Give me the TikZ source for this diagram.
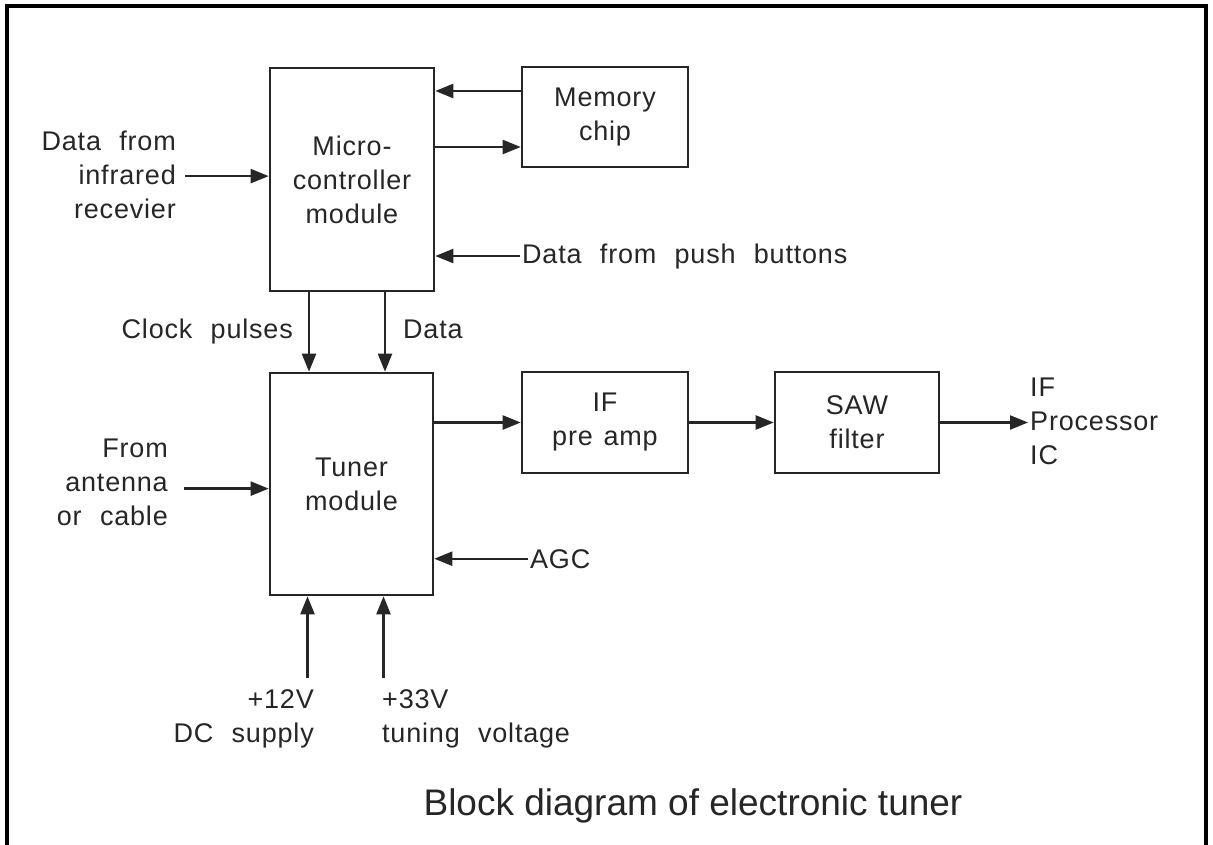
\documentclass[tikz,border=0pt]{standalone}
\usepackage{fontspec}
\setmainfont{Liberation Sans}[LetterSpace=3,WordSpace=2.2]
\newfontfamily\titlefont{Liberation Sans}
\usetikzlibrary{arrows.meta}
\definecolor{ink}{HTML}{262626}
\definecolor{txt}{HTML}{262626}
\tikzset{
  blk/.style={draw=ink,line width=2.6pt,minimum width=#1,inner sep=0pt,align=center,text=txt},
  arr/.style={draw=ink,line width=2.3pt,-{Triangle[length=18pt,width=14pt]}},
  lbl/.style={inner sep=0pt,text=txt},
  bodyfont/.style={font=\fontsize{27}{34}\selectfont},
}
\begin{document}
\begin{tikzpicture}[x=1pt,y=-1pt,bodyfont]
\useasboundingbox (0,0) rectangle (1213,845);
\fill[white] (0,0) rectangle (1213,845);
% frame
\draw[black,line width=4pt] (7,845) -- (7,6) -- (1206,6) -- (1206,845);

% blocks
\node[blk=164pt,minimum height=223pt] (micro) at (352,179.5) {Micro-\\controller\\module};
\node[blk=166pt,minimum height=100pt] (memory) at (605,117) {Memory\\chip};
\node[blk=163pt,minimum height=222pt] (tuner) at (351.5,484) {Tuner\\module};
\node[blk=166pt,minimum height=101pt] (ifamp) at (605,422.5) {IF\\pre\hspace{0.4em}amp};
\node[blk=164pt,minimum height=101pt] (saw) at (857,422.5) {SAW\\filter};

% labels
\node[lbl,anchor=north east,align=right] (ir) at (176,131) {Data from\\infrared\\recevier};
\node[lbl,anchor=base west] (pb) at (522,263) {Data from push buttons};
\node[lbl,anchor=base east] (clk) at (293,338) {Clock pulses};
\node[lbl,anchor=base west] (dat) at (403,338) {Data};
\node[lbl,anchor=north east,align=right] (ant) at (168,439) {From\\antenna\\or cable};
\node[lbl,anchor=base west] (agc) at (530,568) {AGC};
\node[lbl,anchor=west,align=left,inner xsep=2pt] (out) at (1028,421) {IF\\Processor\\IC};
\node[lbl,anchor=north east,align=right] (p12) at (314,689) {+12V\\DC supply};
\node[lbl,anchor=north west,align=left] (p33) at (382,689) {+33V\\tuning voltage};
\node[lbl,anchor=base] (title) at (693,815) {\titlefont\fontsize{37}{44}\selectfont Block diagram of electronic tuner};

% connectors
\coordinate (m1) at ([yshift=26pt]memory.west);
\draw[arr] (m1) -- (m1 -| micro.east);
\coordinate (m2) at ([yshift=-30pt]memory.west);
\draw[arr] (m2 -| micro.east) -- (m2);
\coordinate (i1) at ([xshift=9pt,yshift=-1pt]ir.east);
\draw[arr] (i1) -- (i1 -| micro.west);
\coordinate (b0) at ([xshift=-2pt]pb.west);
\draw[arr] (b0) -- (b0 -| micro.east);
\coordinate (c1) at ([xshift=-43pt]micro.south);
\draw[arr] (c1) -- (c1 |- tuner.north);
\coordinate (c2) at ([xshift=33pt]micro.south);
\draw[arr] (c2) -- (c2 |- tuner.north);
\draw[arr] (ifamp.west -| tuner.east) -- (ifamp.west);
\draw[arr] (ifamp.east) -- (saw.west);
\draw[arr] (saw.east) -- (saw.east -| out.west);
\coordinate (a1) at ([xshift=16pt,yshift=-6pt]ant.east);
\draw[arr] (a1) -- (a1 -| tuner.west);
\coordinate (g1) at ([xshift=-2pt]agc.west);
\draw[arr] (g1) -- (g1 -| tuner.east);
\coordinate (d1) at ([xshift=-44pt,yshift=-82pt]tuner.south);
\draw[arr] (d1) -- (d1 |- tuner.south);
\coordinate (d2) at ([xshift=32pt,yshift=-82pt]tuner.south);
\draw[arr] (d2) -- (d2 |- tuner.south);
\end{tikzpicture}
\end{document}
